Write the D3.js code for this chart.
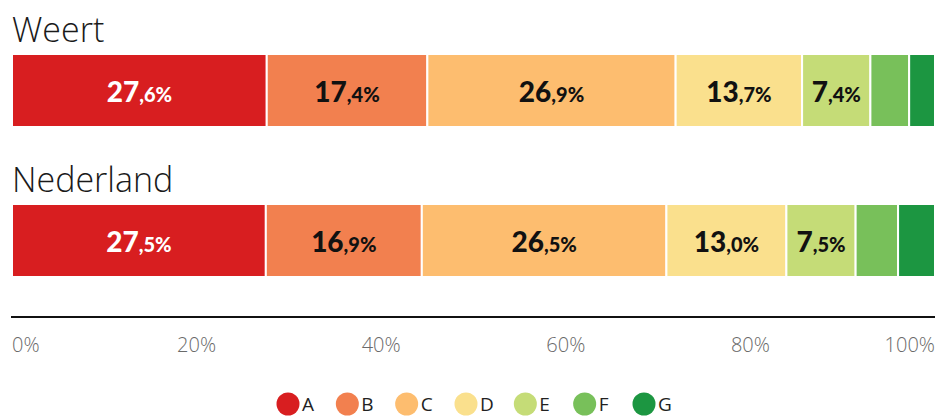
<!DOCTYPE html>
<html>
<head>
<meta charset="utf-8">
<script src="https://cdn.jsdelivr.net/npm/d3@7"></script>
<style>
  body { margin: 0; background: #fff; }
  svg { display: block; }
</style>
</head>
<body>
<svg id="chart" width="939" height="418"></svg>
<script>
// Energy label distribution (share of homes per label)
const labels = ["A", "B", "C", "D", "E", "F", "G"];
const regions = ["Weert", "Nederland"];
const weertValues = [27.6, 17.4, 26.9, 13.7, 7.4, 4.2, 2.8];
const nederlandValues = [27.5, 16.9, 26.5, 13.0, 7.5, 4.6, 4.0];
const shownLabels = [true, true, true, true, true, false, false];
const colors = ["#d81e20", "#f2804f", "#fdbd6f", "#fae08d", "#c5dc77", "#78c05a", "#1c9641"];
const textColors = ["#ffffff", "#111", "#111", "#111", "#111", "#111", "#111"];
const tickValues = [0, 20, 40, 60, 80, 100];

const seriesByRegion = [weertValues, nederlandValues];

const svg = d3.select("#chart");
const x = d3.scaleLinear().domain([0, 100]).range([12, 935]);

const titleY = [42, 192];
const barTop = [54, 204];
const barH = 73;

const fmtInt = v => String(Math.floor(v));
const fmtDec = v => "," + Math.round((v - Math.floor(v)) * 10) + "%";

regions.forEach((name, ri) => {
  const vals = seriesByRegion[ri];
  let cum = 0;
  const segs = vals.map((v, i) => {
    const s = { label: labels[i], value: v, x0: cum, x1: cum + v, i };
    cum += v;
    return s;
  });

  svg.append("text")
    .attr("x", 12)
    .attr("y", titleY[ri])
    .attr("font-family", "'Open Sans', sans-serif")
    .attr("font-weight", 300)
    .attr("font-size", 34)
    .attr("fill", "#1a1a1a")
    .text(name);

  const g = svg.append("g");
  g.selectAll("rect")
    .data(segs)
    .join("rect")
    .attr("x", d => x(d.x0))
    .attr("y", barTop[ri])
    .attr("width", d => x(d.x1) - x(d.x0))
    .attr("height", barH)
    .attr("fill", d => colors[d.i])
    .attr("stroke", "#fff")
    .attr("stroke-width", 2);

  const t = g.selectAll("text.val")
    .data(segs.filter(d => shownLabels[d.i]))
    .join("text")
    .attr("class", "val")
    .attr("x", d => (x(d.x0) + x(d.x1)) / 2)
    .attr("y", barTop[ri] + barH / 2 + 11)
    .attr("text-anchor", "middle")
    .attr("font-family", "Lato, 'Open Sans', sans-serif")
    .attr("font-weight", 900)
    .attr("fill", d => textColors[d.i]);
  t.append("tspan").attr("font-size", 28).text(d => fmtInt(d.value));
  t.append("tspan").attr("font-size", 20).text(d => fmtDec(d.value));
});

// Axis
svg.append("line")
  .attr("x1", 11).attr("x2", 935)
  .attr("y1", 317).attr("y2", 317)
  .attr("stroke", "#111").attr("stroke-width", 2);

svg.selectAll("text.tick")
  .data(tickValues)
  .join("text")
  .attr("class", "tick")
  .attr("x", d => x(d))
  .attr("y", 352)
  .attr("text-anchor", d => d === 0 ? "start" : d === 100 ? "end" : "middle")
  .attr("font-family", "'Open Sans', sans-serif")
  .attr("font-weight", 300)
  .attr("font-size", 20)
  .attr("fill", "#6a6a6a")
  .text(d => d + "%");

// Legend
const legX = d3.scalePoint().domain(labels).range([288, 644]);
const leg = svg.selectAll("g.leg")
  .data(labels)
  .join("g")
  .attr("class", "leg")
  .attr("transform", d => `translate(${legX(d)},404)`);
leg.append("circle").attr("r", 11.5).attr("fill", (d, i) => colors[i]);
leg.append("text")
  .attr("x", 14)
  .attr("y", 7)
  .attr("font-family", "'Open Sans', sans-serif")
  .attr("font-size", 19)
  .attr("fill", "#222")
  .text(d => d);
</script>
</body>
</html>
